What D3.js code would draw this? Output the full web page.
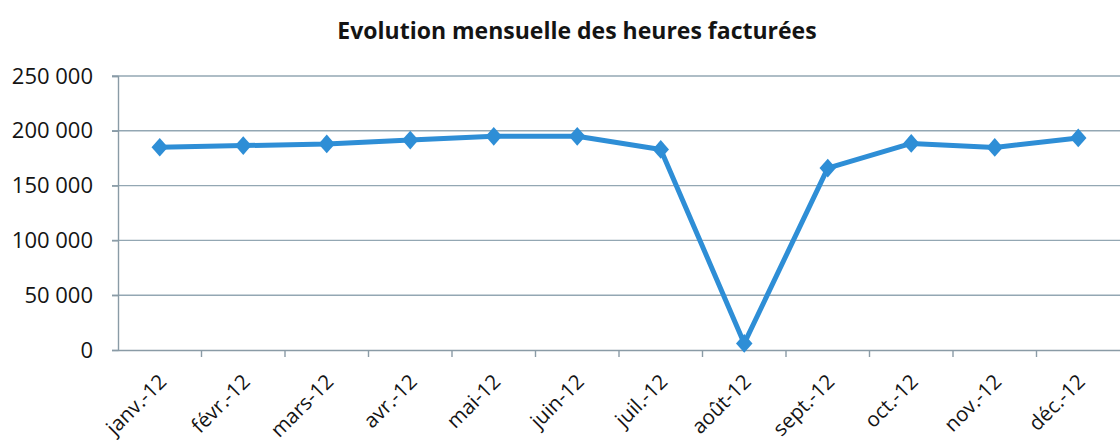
<!DOCTYPE html>
<html>
<head>
<meta charset="utf-8">
<script src="https://cdn.jsdelivr.net/npm/d3@7"></script>
<style>
  body { margin: 0; background: #fff; }
  svg { display: block; }
  .tick text { font-family: "Open Sans", sans-serif; fill: #141414; }
</style>
</head>
<body>
<svg width="1120" height="443"></svg>
<script>
var months = ["janv.-12", "févr.-12", "mars-12", "avr.-12", "mai-12", "juin-12",
              "juil.-12", "août-12", "sept.-12", "oct.-12", "nov.-12", "déc.-12"];
var hours = [185000, 186500, 188000, 191500, 195000, 195000,
             183000, 6000, 166000, 188500, 184800, 193500];
var yTicks = [0, 50000, 100000, 150000, 200000, 250000];
var title = "Evolution mensuelle des heures facturées";

function main() {
    var svg = d3.select("svg"),
        left = 118, right = 1120,
        top = 76, bottom = 350;

    var fr = d3.formatLocale({decimal: ",", thousands: " ", grouping: [3], currency: ["", " €"]});
    var fmt = fr.format(",d");

    var xScale = d3.scaleBand().domain(months).range([left, right]),
        yScale = d3.scaleLinear().domain([0, 250000]).range([bottom, top]);

    // title
    svg.append("text")
        .attr("x", 577)
        .attr("y", 39)
        .attr("text-anchor", "middle")
        .style("font-family", "'Open Sans', sans-serif")
        .style("font-weight", "bold")
        .style("font-size", "23px")
        .style("fill", "#141414")
        .text(title);

    // gridlines
    svg.append("g").selectAll("line")
        .data(yTicks.filter(function(d) { return d > 0; }))
        .enter().append("line")
        .attr("x1", left - 6).attr("x2", right)
        .attr("y1", function(d) { return yScale(d); })
        .attr("y2", function(d) { return yScale(d); })
        .attr("stroke", "#93a7b3")
        .attr("stroke-width", 1.4);

    // y axis
    var yAxis = svg.append("g")
        .attr("transform", "translate(" + left + ",0)")
        .call(d3.axisLeft(yScale).tickValues(yTicks).tickFormat(fmt).tickSize(6).tickPadding(19));
    yAxis.select(".domain").attr("stroke", "#8a9ba6").attr("stroke-width", 1.4);
    yAxis.selectAll(".tick line").attr("stroke", "#8a9ba6").attr("stroke-width", 1.4);
    yAxis.selectAll(".tick text").style("font-size", "22px");

    // x axis
    var xAxis = svg.append("g")
        .attr("transform", "translate(0," + bottom + ")")
        .call(d3.axisBottom(xScale).tickSize(0).tickPadding(0));
    xAxis.select(".domain").attr("stroke", "#8a9ba6").attr("stroke-width", 1.4);
    xAxis.selectAll(".tick text")
        .style("font-size", "20.5px")
        .style("text-anchor", "end")
        .attr("dy", null)
        .attr("y", 0)
        .attr("transform", "translate(8,33) rotate(-45)");

    // x ticks at band boundaries
    svg.append("g").selectAll("line")
        .data(months.slice(1))
        .enter().append("line")
        .attr("x1", function(d) { return xScale(d); })
        .attr("x2", function(d) { return xScale(d); })
        .attr("y1", bottom).attr("y2", bottom + 7)
        .attr("stroke", "#8a9ba6")
        .attr("stroke-width", 1.4);

    var cx = function(d, i) { return xScale(months[i]) + xScale.bandwidth() / 2; };

    var line = d3.line()
        .x(function(d, i) { return cx(d, i); })
        .y(function(d) { return yScale(d); });

    svg.append("path")
        .datum(hours)
        .attr("d", line)
        .attr("fill", "none")
        .attr("stroke", "#2e8ed6")
        .attr("stroke-width", 5)
        .attr("stroke-linejoin", "round");

    svg.append("g").selectAll("path")
        .data(hours)
        .enter().append("path")
        .attr("d", d3.symbol().type(d3.symbolSquare).size(150))
        .attr("transform", function(d, i) {
            return "translate(" + cx(d, i) + "," + yScale(d) + ") scale(0.95,1.08) rotate(45)";
        })
        .attr("fill", "#2e8ed6");
}
main();
</script>
</body>
</html>
